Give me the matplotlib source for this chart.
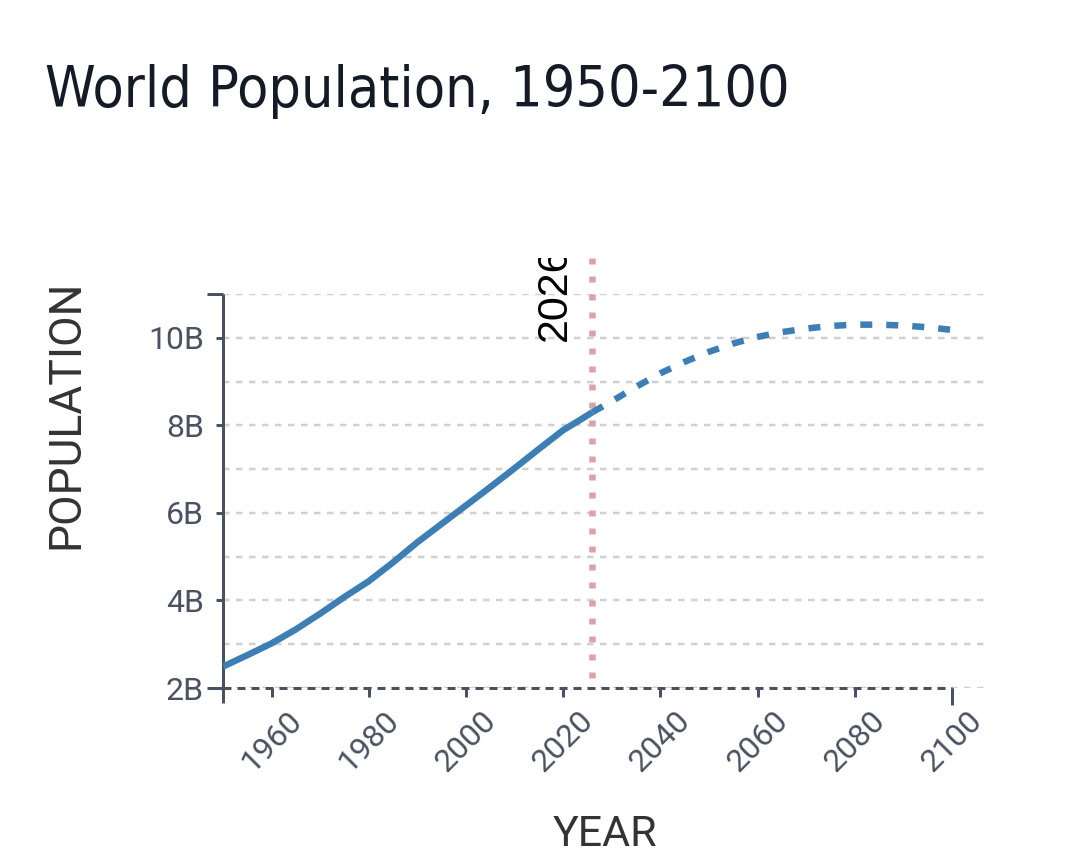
import matplotlib
matplotlib.use("Agg")
import matplotlib.pyplot as plt
from matplotlib.transforms import Bbox, TransformedBbox

# ---- data (billions) ----
hist_years = [1950, 1955, 1960, 1965, 1970, 1975, 1980, 1985, 1990, 1995,
              2000, 2005, 2010, 2015, 2020, 2024, 2026]
hist_pop = [2.49, 2.75, 3.02, 3.34, 3.70, 4.08, 4.44, 4.87, 5.33, 5.75,
            6.17, 6.59, 7.02, 7.46, 7.89, 8.16, 8.30]
proj_years = [2026, 2030, 2035, 2040, 2045, 2050, 2055, 2060, 2065, 2070,
              2075, 2080, 2085, 2090, 2095, 2100]
proj_pop = [8.30, 8.55, 8.88, 9.19, 9.45, 9.68, 9.87, 10.02, 10.13, 10.21,
            10.27, 10.30, 10.30, 10.28, 10.24, 10.18]
marker_year = 2026
marker_label = "2026"
x_ticks = [1960, 1980, 2000, 2020, 2040, 2060, 2080, 2100]
y_ticks = [2, 4, 6, 8, 10]
y_tick_labels = ["2B", "4B", "6B", "8B", "10B"]
grid_vals = [2, 3, 4, 5, 6, 7, 8, 9, 10, 11]

plt.rcParams['lines.scale_dashes'] = False
PX = 0.72  # points per pixel at dpi 100

W, H = 1080, 867
fig = plt.figure(figsize=(W / 100, H / 100), dpi=100)
fig.patch.set_facecolor("white")

left, right, top, bottom = 223, 985, 294, 688
ax = fig.add_axes([left / W, 1 - bottom / H, (right - left) / W, (bottom - top) / H])
x0, x1 = 1950, 1950 + (right - left) / 4.86
y0, y1 = 2, 11
ax.set_xlim(x0, x1)
ax.set_ylim(y0, y1)
for s in ax.spines.values():
    s.set_visible(False)

ppy = (bottom - top) / (y1 - y0)  # px per billion
axis_col = "#4a5160"
grid_col = "#d0d0d0"

# grid
for g in grid_vals:
    ax.axhline(g, color=grid_col, lw=2.5 * PX, dashes=(6.5 * PX, 6.5 * PX), zorder=1)

# bottom domain (dashed dark)
ax.plot([1950, 2100], [2, 2], color=axis_col, lw=3 * PX, dashes=(8 * PX, 6 * PX),
        zorder=2, clip_on=False, solid_capstyle="butt", dash_capstyle="butt")

# left domain
ax.plot([1950, 1950], [2 - 15 / ppy, 11], color=axis_col, lw=3 * PX, zorder=3,
        clip_on=False, solid_capstyle="butt")
# outer caps on y-axis
xpx = (x1 - x0) / (right - left)
for yv in (2, 11):
    ax.plot([1950 - 16 * xpx, 1950], [yv, yv], color=axis_col, lw=3 * PX, zorder=3,
            clip_on=False, solid_capstyle="butt")
# outer cap at 2100
ax.plot([2100, 2100], [2, 2 - 17 / ppy], color=axis_col, lw=3 * PX, zorder=3,
        clip_on=False, solid_capstyle="butt")

# ticks
ax.set_xticks(x_ticks)
ax.set_xticklabels([str(v) for v in x_ticks])
ax.set_yticks(y_ticks)
ax.set_yticklabels(y_tick_labels)
ax.tick_params(axis="x", length=9 * PX, width=3 * PX, color=axis_col, labelcolor=axis_col,
               labelsize=23, pad=9 * PX)
ax.tick_params(axis="y", length=7 * PX, width=3 * PX, color=axis_col, labelcolor=axis_col,
               labelsize=23, pad=12 * PX)
for lab in ax.get_xticklabels():
    lab.set_rotation(45)
    lab.set_ha("center")
    lab.set_va("top")
    lab.set_family(["Roboto", "DejaVu Sans"])
for lab in ax.get_yticklabels():
    lab.set_family(["Roboto", "DejaVu Sans"])

# marker line (drawn from top so the dash pattern reaches the top end)
ax.plot([marker_year, marker_year], [11 + (top - 258) / ppy, 2], color="#dba4a4",
        lw=6.5 * PX, dashes=(6 * PX, 12 * PX), zorder=4, clip_on=False,
        dash_capstyle="butt")

# data lines
line_col = "#3d7eb5"
ax.plot(hist_years, hist_pop, color=line_col, lw=6.5 * PX, zorder=5,
        solid_capstyle="butt", solid_joinstyle="round")
ax.plot(proj_years, proj_pop, color=line_col, lw=6.5 * PX, zorder=5,
        dashes=(12 * PX, 14 * PX), dash_capstyle="butt")

# marker label (clipped at top like reference)
t = fig.text(575 / W, 1 - 341 / H, marker_label, rotation=90, ha="right", va="bottom",
             fontsize=31, color="black", family=["Liberation Sans", "DejaVu Sans"])
t.set_clip_box(TransformedBbox(Bbox([[0, 0], [1, 1 - 258 / H]]), fig.transFigure))
t.set_clip_on(True)

# axis titles
fig.text(66 / W, 1 - 414 / H, "POPULATION", rotation=90, ha="center", va="center",
         fontsize=32, color="#333333", family=["Roboto", "DejaVu Sans"])
fig.text(605 / W, 1 - 835 / H, "YEAR", ha="center", va="center",
         fontsize=31, color="#333333", family=["Roboto", "DejaVu Sans"])

# title
fig.text(45 / W, 1 - 107 / H, "World Population, 1950-2100", ha="left", va="baseline",
         fontsize=41, color="#141a26", fontstretch="condensed",
         family=["DejaVu Sans"])

fig.savefig("out.png", dpi=100, facecolor="white")
